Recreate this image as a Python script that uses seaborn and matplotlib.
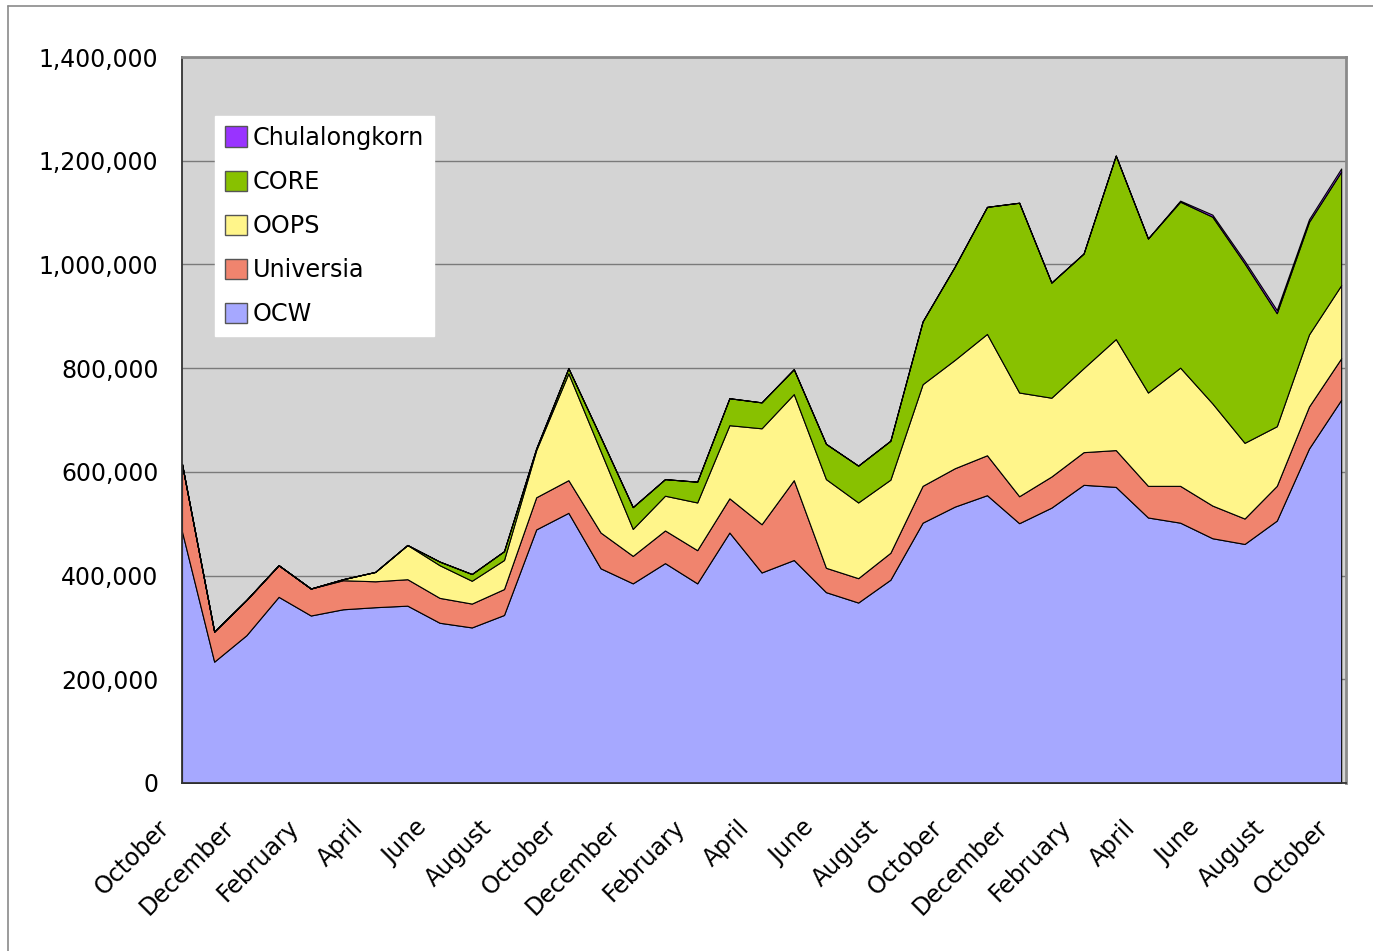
import numpy as np
import matplotlib
matplotlib.use("Agg")
import matplotlib.pyplot as plt
import seaborn as sns
from matplotlib.lines import Line2D
from matplotlib.ticker import FuncFormatter
from matplotlib.transforms import ScaledTranslation

# ---- data (thousands of visits per month) ----
month_names = ["October", "November", "December", "January", "February", "March",
               "April", "May", "June", "July", "August", "September"]
months = [month_names[i % 12] for i in range(37)]

ocw = [485, 234, 285, 359, 323, 335, 339, 342, 309, 300, 324, 489, 521, 414, 385, 424,
       385, 483, 406, 430, 368, 348, 392, 502, 533, 555, 501, 531, 575, 571, 512, 502,
       472, 461, 506, 645, 739]
universia = [130, 58, 68, 61, 52, 56, 50, 51, 48, 46, 50, 62, 63, 69, 53, 63,
             64, 66, 93, 154, 47, 47, 52, 71, 74, 77, 52, 60, 63, 71, 61, 71,
             63, 49, 67, 81, 80]
oops = [0, 0, 0, 0, 0, 2, 18, 66, 63, 44, 56, 91, 206, 157, 52, 67,
        92, 141, 185, 166, 171, 146, 141, 196, 209, 234, 200, 152, 162, 214, 180, 228,
        197, 146, 115, 139, 141]
core = [0, 0, 0, 0, 0, 0, 0, 0, 7, 13, 17, 3, 10, 27, 42, 32,
        40, 52, 50, 48, 68, 71, 75, 121, 180, 245, 366, 222, 221, 354, 297, 320,
        360, 346, 218, 217, 219]
chula = [0] * 31 + [2, 4, 5, 6, 5, 6]

series_names = ["OCW", "Universia", "OOPS", "CORE", "Chulalongkorn"]
series_vals = [ocw, universia, oops, core, chula]
colors = ["#a6a8ff", "#f0846e", "#fff58a", "#88c100", "#9933ff"]

# ---- style ----
sns.set_style("white")
plt.rcParams["font.family"] = ["DejaVu Sans"]
plt.rcParams["text.color"] = "black"
plt.rcParams["xtick.labelcolor"] = "black"
plt.rcParams["ytick.labelcolor"] = "black"

fig = plt.figure(figsize=(13.73, 9.51), dpi=100)
W, H = 1373, 951
ax = fig.add_axes([182 / W, 1 - 783 / H, 1164 / W, 726 / H])

x = np.arange(len(months))
ys = [np.array(v) * 1000 for v in series_vals]
ax.stackplot(x, *ys, colors=colors, labels=series_names,
             edgecolor="black", linewidth=0.8)

ax.set_facecolor("#d4d4d4")
ax.set_xlim(0, 36.15)
ax.set_ylim(0, 1400000)
ax.set_yticks(np.arange(0, 1400001, 200000))
ax.yaxis.set_major_formatter(FuncFormatter(lambda v, p: f"{int(v):,}"))
ax.grid(axis="y", color="#7a7a7a", linewidth=1.0)
ax.grid(axis="x", visible=False)
ax.set_axisbelow(True)

ax.set_xticks(x)
ax.set_xticklabels([m if i % 2 == 0 else "" for i, m in enumerate(months)],
                   rotation=45, ha="right", va="center", rotation_mode="anchor",
                   fontsize=17)
ax.tick_params(axis="x", direction="out", length=5, width=1, color="#333333", pad=0)
ax.tick_params(axis="y", direction="out", length=5, width=1, color="#333333",
               labelsize=17, pad=12)
offset = ScaledTranslation(-16 / 100, -34 / 100, fig.dpi_scale_trans)
for lbl in ax.get_xticklabels():
    lbl.set_transform(lbl.get_transform() + offset)

for s in ["left", "bottom"]:
    ax.spines[s].set_color("#333333")
    ax.spines[s].set_linewidth(1.3)
for s in ["top", "right"]:
    ax.spines[s].set_color("#8a8a8a")
    ax.spines[s].set_linewidth(2.0)

# legend (reverse order like reference)
handles, labels = ax.get_legend_handles_labels()
leg = ax.legend(handles[::-1], labels[::-1], loc="upper left",
                bbox_to_anchor=(0.028, 0.919), borderaxespad=0,
                fontsize=17.2, frameon=True, fancybox=False, framealpha=1,
                handlelength=0.93, handleheight=0.93, handletextpad=0.25,
                labelspacing=0.84, borderpad=0.42)
leg.get_frame().set_facecolor("white")
leg.get_frame().set_edgecolor("white")
for p in leg.get_patches():
    p.set_edgecolor("#555555")
    p.set_linewidth(1.0)

# outer chart frame
fig.add_artist(Line2D([8 / W, 1.0], [1 - 6 / H, 1 - 6 / H], color="#8a8a8a", lw=1.2))
fig.add_artist(Line2D([8 / W, 8 / W], [0, 1 - 6 / H], color="#8a8a8a", lw=1.2))

fig.savefig("out.png", dpi=100, facecolor="white")
